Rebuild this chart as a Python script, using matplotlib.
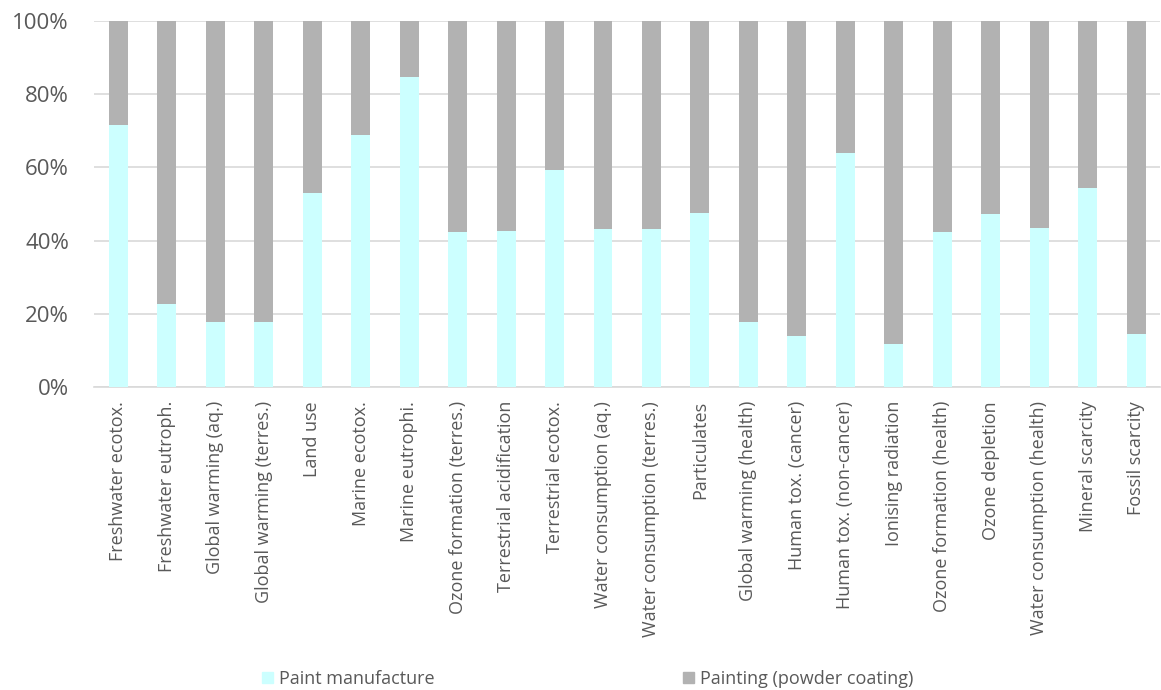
import numpy as np
import matplotlib
matplotlib.use("Agg")
import matplotlib.pyplot as plt
from matplotlib.ticker import PercentFormatter
from matplotlib.patches import Patch

# impact categories and share of each process (%)
categories = [
    "Freshwater ecotox.", "Freshwater eutroph.", "Global warming (aq.)",
    "Global warming (terres.)", "Land use", "Marine ecotox.", "Marine eutrophi.",
    "Ozone formation (terres.)", "Terrestrial acidification", "Terrestrial ecotox.",
    "Water consumption (aq.)", "Water consumption (terres.)", "Particulates",
    "Global warming (health)", "Human tox. (cancer)", "Human tox. (non-cancer)",
    "Ionising radiation", "Ozone formation (health)", "Ozone depletion",
    "Water consumption (health)", "Mineral scarcity", "Fossil scarcity",
]
paint_manufacture = [
    71.6, 22.7, 17.8, 17.8, 53.1, 68.9, 84.6, 42.3, 42.5, 59.4, 43.3,
    43.3, 47.6, 17.7, 13.9, 63.9, 11.9, 42.3, 47.4, 43.4, 54.5, 14.6,
]
powder_coating = [100 - v for v in paint_manufacture]

plt.rcParams['font.family'] = ['Open Sans', 'DejaVu Sans']
text_col = "#595959"
c_paint, c_coat = "#CCFFFF", "#B2B2B2"
fs = 13

fig = plt.figure(figsize=(11.61, 6.90), dpi=100)
ax = fig.add_axes([0.081, 0.439, 0.9185, 0.5306])

x = np.arange(len(categories))
ax.bar(x, paint_manufacture, width=0.39, color=c_paint, zorder=3)
ax.bar(x, powder_coating, width=0.39, bottom=paint_manufacture, color=c_coat, zorder=3)

ax.set_xlim(-0.5, len(categories) - 0.5)
ax.set_ylim(0, 100)
ax.set_yticks(np.arange(0, 101, 20))
ax.yaxis.set_major_formatter(PercentFormatter(decimals=0))
ax.grid(axis="y", color="#D9D9D9", linewidth=1.2, zorder=0)
ax.set_xticks(x)
ax.set_xticklabels(categories, rotation=90, fontsize=fs, color=text_col)
ax.tick_params(axis="x", length=0, pad=10)
ax.tick_params(axis="y", length=0, pad=18, labelsize=16, labelcolor=text_col)
for s in ["top", "right", "left"]:
    ax.spines[s].set_visible(False)
ax.spines["bottom"].set_color("#D9D9D9")
ax.spines["bottom"].set_linewidth(1.2)

# two legend entries, placed separately
leg_y = 1 - 679 / 690
for label, col, x0 in [("Paint manufacture", c_paint, 262),
                       ("Painting (powder coating)", c_coat, 683)]:
    leg = fig.legend(handles=[Patch(color=col, label=label)], loc="center left",
                     bbox_to_anchor=(x0 / 1161, leg_y), frameon=False, fontsize=fs,
                     borderpad=0, borderaxespad=0, handlelength=0.61,
                     handleheight=0.61, handletextpad=0.33)
    for t in leg.get_texts():
        t.set_color(text_col)

fig.savefig("out.png", dpi=100)
